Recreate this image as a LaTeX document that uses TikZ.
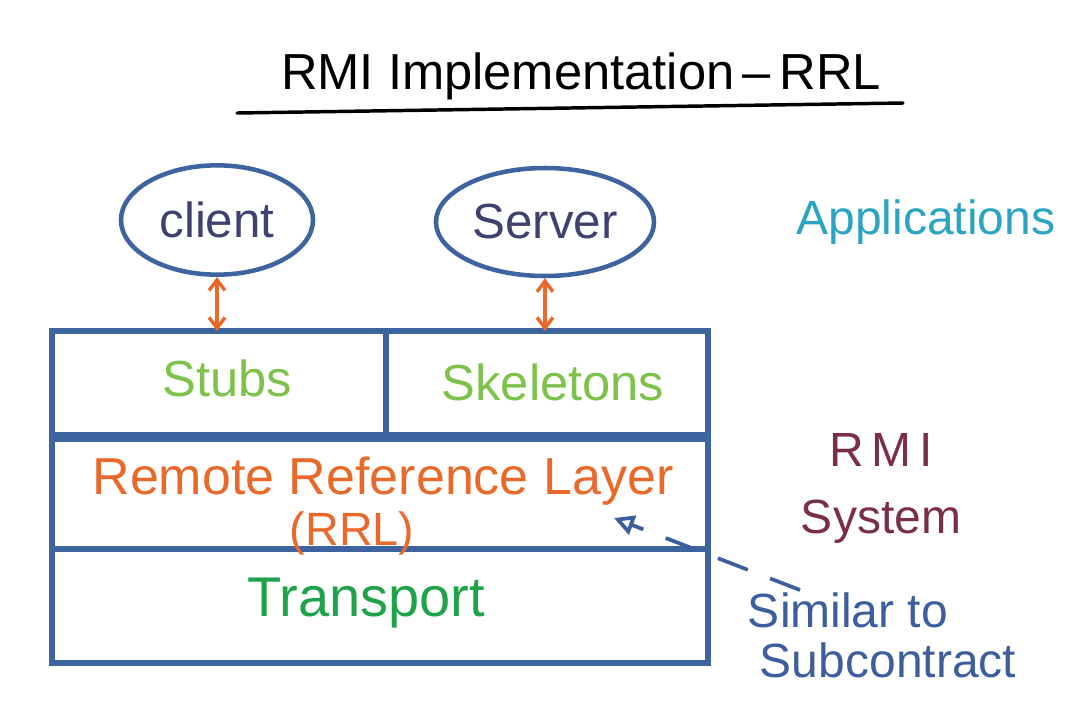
\documentclass[tikz,border=0pt]{standalone}
\usepackage{fontspec}
\setmainfont{Liberation Sans}
\usetikzlibrary{arrows.meta,shapes.geometric}
\definecolor{boxblue}{HTML}{3E64A0}
\definecolor{arrorange}{HTML}{E8692A}
\definecolor{lightgreen}{HTML}{7DC24A}
\definecolor{darkgreen}{HTML}{1FA34A}
\definecolor{tealc}{HTML}{2BA3C2}
\definecolor{maroon}{HTML}{7B2E48}
\definecolor{navy}{HTML}{3F4170}
\definecolor{noteblue}{HTML}{3C5E9E}
\begin{document}
\begin{tikzpicture}[x=0.75pt,y=-0.75pt,
  lbl/.style={font=\fontsize{38}{42}\selectfont, inner sep=0pt},
  sidelbl/.style={font=\fontsize{36}{40}\selectfont, inner sep=0pt},
  appnode/.style={ellipse, draw=boxblue, line width=3.4pt, minimum width=144pt, minimum height=82pt, text=navy, font=\fontsize{37}{40}\selectfont},
  frame/.style={draw=boxblue, line width=4.2pt},
  link/.style={arrorange, line width=2.6pt, {Straight Barb[length=8pt,width=12pt]}-{Straight Barb[length=8pt,width=12pt]}},
  note/.style={noteblue, line width=2.8pt, dash pattern=on 24pt off 18pt, -{Triangle[open,length=15pt,width=15pt]}}]
\useasboundingbox (0,0) rectangle (1089,722);
% title
\node[lbl] (title) at (581,76) {RMI Implementation\,--\,RRL};
\coordinate (ulL) at (237,113);
\coordinate (ulR) at (903,103);
\draw[line width=2.6pt, line cap=round] (ulL) -- (ulR);
% applications
\node[appnode] (client) at (217,220) {client};
\node[appnode, minimum width=145pt, minimum height=81pt] (server) at (545,222) {Server};
% stack frame
\coordinate (tl) at (52,331);
\coordinate (tr) at (708,331);
\coordinate (bl) at (52,663);
\coordinate (br) at (708,663);
\coordinate (midtop) at (386,331);
\coordinate (midbot) at (386,437);
\draw[frame, line join=miter] (tl) rectangle (br);
\draw[frame] (midtop) -- (midbot);
\draw[draw=boxblue, line width=7pt] (52,437) -- (708,437);
\draw[frame] (52,549) -- (708,549);
% arrows
\draw[link] (client.south) -- (client.south |- tl);
\draw[link] (server.south) -- (server.south |- tr);
% layer labels
\node[lbl, text=lightgreen] (stubs) at (227,378) {Stubs};
\node[lbl, text=lightgreen] (skel) at (553,382) {Skeletons};
\node[lbl, text=arrorange, font=\fontsize{39}{43}\selectfont] (rrl) at (383,481) {Remote Reference Layer};
\node[lbl, text=arrorange, font=\fontsize{35}{39}\selectfont] (rrlabbr) at (352,533) {(RRL)};
\node[lbl, text=darkgreen, font=\fontsize{42}{46}\selectfont] (transport) at (366,603) {Transport};
% side labels
\node[sidelbl, text=tealc] (apps) at (926,222) {Applications};
\node[sidelbl, text=maroon] (rmi) at (881,450) {R\,M\,I};
\node[sidelbl, text=maroon] (system) at (881,522) {System};
\node[sidelbl, text=noteblue] (sim1) at (848,610) {Similar to};
\node[sidelbl, text=noteblue] (sim2) at (888,660) {Subcontract};
% note arrow
\coordinate (noteend) at (614,518);
\coordinate (notestart) at (800,590);
\draw[note] (notestart) -- (noteend);
\end{tikzpicture}
\end{document}
